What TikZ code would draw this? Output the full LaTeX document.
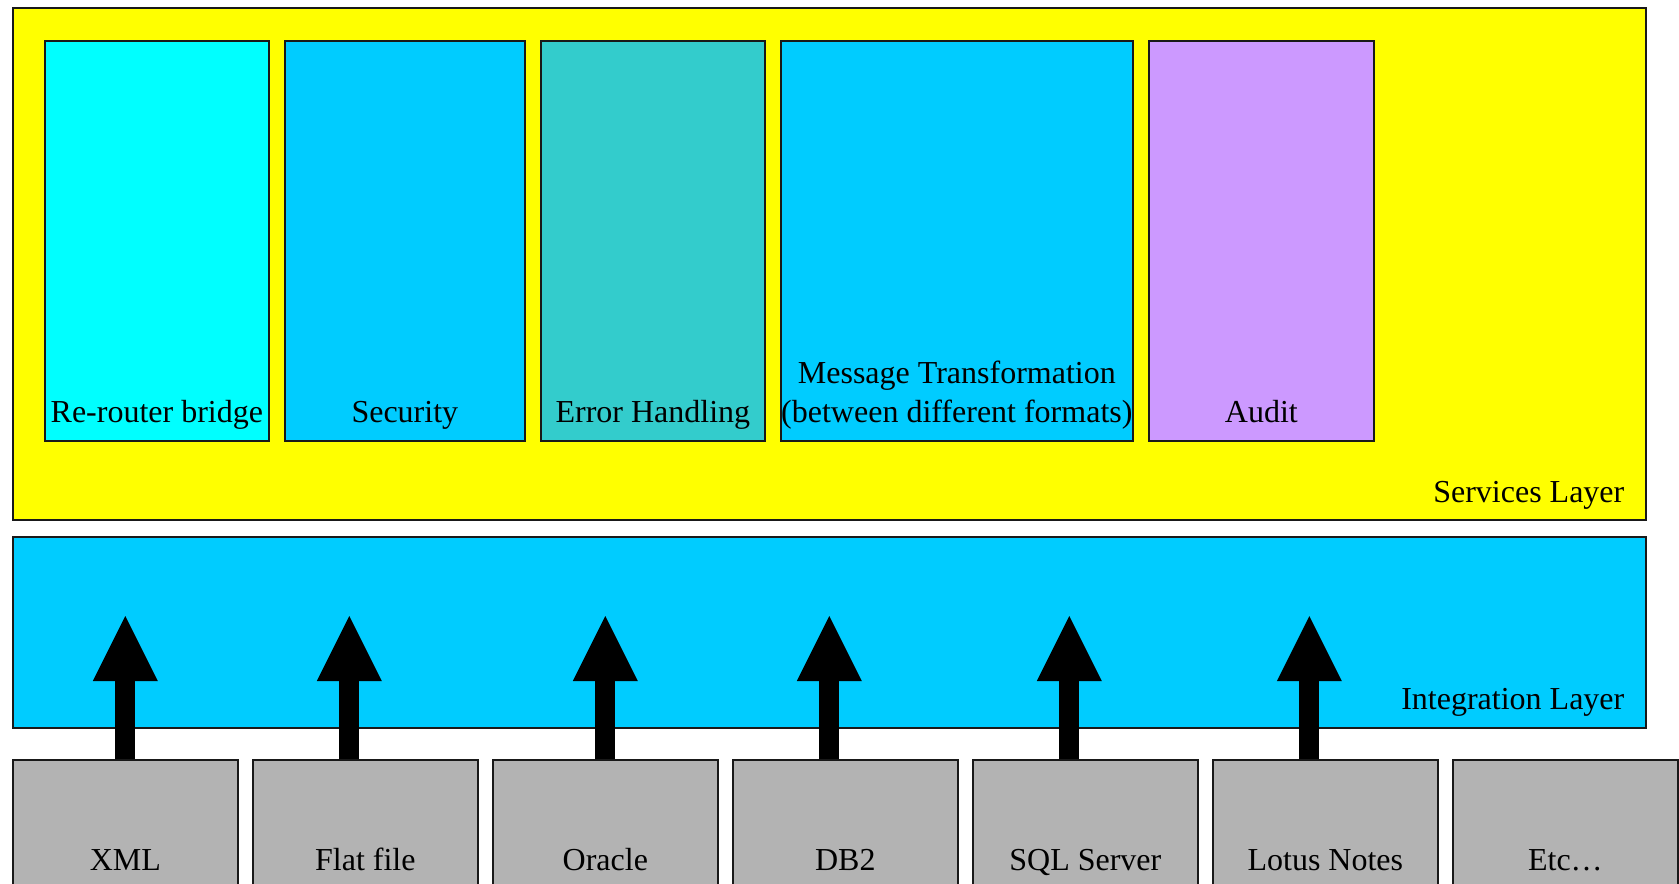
\documentclass[tikz,border=0pt]{standalone}
\usepackage{fontspec}
\setmainfont{Liberation Serif}
\usetikzlibrary{arrows.meta}
\definecolor{svcyellow}{HTML}{FFFF00}
\definecolor{rrcyan}{HTML}{00FFFF}
\definecolor{secblue}{HTML}{00CCFF}
\definecolor{errteal}{HTML}{33CCCC}
\definecolor{audlilac}{HTML}{CC99FF}
\definecolor{srcgrey}{HTML}{B3B3B3}
\begin{document}
\begin{tikzpicture}[x=0.5pt, y=-0.5pt,
    box/.style={draw=black!90, line width=0.85pt, rectangle, anchor=north west, inner sep=0pt},
    lbl/.style={font=\fontsize{16}{19.5}\selectfont, inner sep=0pt, align=center},
    bigarrow/.style={line width=10pt, -{Triangle[width=32.5pt, length=32.5pt, line width=0pt]}}]
    \useasboundingbox (0,0) rectangle (1679,883);
    \clip (0,0) rectangle (1679,883);
    % services layer
    \node[box, fill=svcyellow, minimum width=816.5pt, minimum height=255.75pt] (svc) at (12,7.5) {};
    \node[lbl, anchor=base east] (svctxt) at ([xshift=-11pt, yshift=9pt]svc.south east) {Services Layer};
    \foreach \n/\x/\w/\c/\t in {rr/44/112pt/rrcyan/Re-router bridge, sec/284/120pt/secblue/Security,
        err/540/112pt/errteal/Error Handling, aud/1148/112.5pt/audlilac/Audit}
    {
        \node[box, fill=\c, minimum width=\w, minimum height=200pt] (\n) at (\x,40) {};
        \node[lbl, anchor=base] (\n txt) at ([yshift=9.5pt]\n.south) {\t};
    }
    \node[box, fill=secblue, minimum width=176pt, minimum height=200pt] (msg) at (780,40) {};
    \node[lbl, anchor=south] (msgtxt) at ([yshift=6pt]msg.south) {Message Transformation\\(between different formats)};
    % integration layer
    \node[box, fill=secblue, minimum width=816.5pt, minimum height=95.5pt] (intg) at (12,536) {};
    \node[lbl, anchor=base east] (intgtxt) at ([xshift=-11pt, yshift=9.5pt]intg.south east) {Integration Layer};
    % sources
    \foreach \n/\t [count=\i from 0] in {xml/XML, flat/Flat file, ora/Oracle, db/DB2,
        sql/SQL Server, lot/Lotus Notes, etc/Etc…}
    {
        \node[box, fill=srcgrey, minimum width=112.5pt, minimum height=70.5pt] (\n) at ({12+240*\i},759) {};
        \node[lbl, anchor=base] (\n txt) at ([yshift=-55.5pt]\n.north) {\t};
    }
    \coordinate (tip) at (0,616);
    \foreach \n/\dx in {xml/0pt, flat/-8pt, ora/0pt, db/-8pt, sql/-8pt, lot/-8pt}
        \draw[bigarrow] ([xshift=\dx]\n.north) -- ([xshift=\dx]\n.north |- tip);
\end{tikzpicture}
\end{document}
